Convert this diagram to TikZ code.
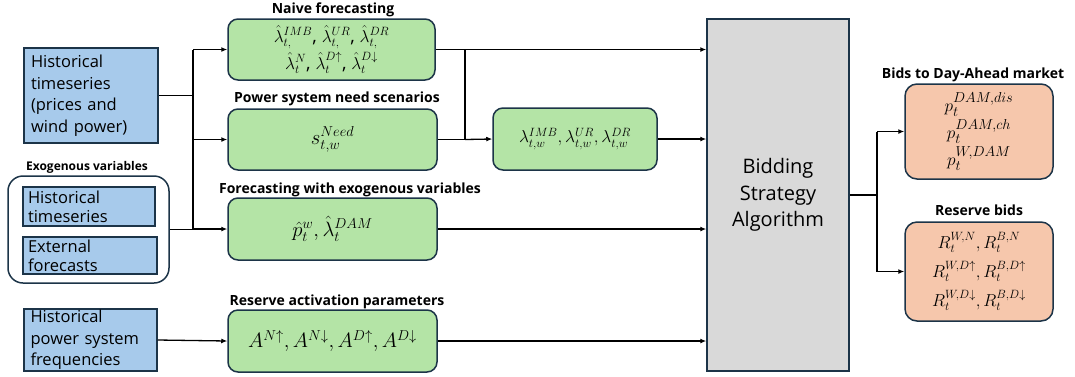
\documentclass[tikz,border=0pt]{standalone}
\usepackage{fontspec}
\setmainfont{Open Sans}
\usepackage{amsmath}
\usetikzlibrary{arrows.meta}
\definecolor{bluef}{HTML}{A7CAEB}
\definecolor{greenf}{HTML}{B4E4A6}
\definecolor{orangef}{HTML}{F6C7AC}
\definecolor{grayf}{HTML}{D9D9D9}
\definecolor{edge}{HTML}{1C3448}
\tikzset{
  box/.style={draw=edge, line width=1.5pt, inner sep=0pt, anchor=center},
  bluebox/.style={box, fill=bluef, align=left, font=\fontsize{16.5}{21.5}\selectfont},
  greenbox/.style={box, fill=greenf, rounded corners=10pt, align=center, font=\fontsize{17}{24}\selectfont},
  orangebox/.style={box, fill=orangef, rounded corners=12pt, align=center, font=\fontsize{16}{28}\selectfont},
  lbl/.style={font=\bfseries\fontsize{14}{16}\selectfont, inner sep=0pt},
  conn/.style={line width=1.3pt, draw=black},
  arr/.style={conn, -{Latex[length=6pt,width=5pt]}},
}
\begin{document}
\begin{tikzpicture}[x=1pt,y=-1pt]
\useasboundingbox (0,0) rectangle (1075,376);
% left inputs
\node[bluebox, minimum width=134pt, minimum height=95pt, text width=120pt] (hist) at (91,95.5)
  {Historical\\timeseries\\(prices and\\wind power)};
\node[font=\bfseries\fontsize{12}{14}\selectfont, inner sep=0pt] (exolbl) at (87,167) {Exogenous variables};
\node[box, fill=white, rounded corners=15pt, minimum width=161pt, minimum height=107pt] (exo) at (88.5,229.5) {};
\node[bluebox, minimum width=132pt, minimum height=39pt, text width=122pt, font=\fontsize{16.5}{19}\selectfont] (ht) at (89,206.5) {Historical\\timeseries};
\node[bluebox, minimum width=134pt, minimum height=37pt, text width=124pt, font=\fontsize{16.5}{19}\selectfont] (ef) at (90,255.5) {External\\forecasts};
\node[bluebox, minimum width=133pt, minimum height=62pt, text width=120pt] (freq) at (90.5,340)
  {Historical\\power system\\frequencies};
% green boxes
\node[lbl] (naivelbl) at (333,10) {Naive forecasting};
\node[greenbox, minimum width=207pt, minimum height=61pt, font=\fontsize{18.5}{27}\selectfont] (naive) at (331.5,49.5)
  {$\hat{\lambda}^{IMB}_{t,}$, $\hat{\lambda}^{UR}_{t,}$, $\hat{\lambda}^{DR}_{t,}$\\
   $\hat{\lambda}^{N}_{t}$, $\hat{\lambda}^{D\uparrow}_{t}$, $\hat{\lambda}^{D\downarrow}_{t}$};
\node[lbl] (needlbl) at (337,99) {Power system need scenarios};
\node[greenbox, minimum width=209pt, minimum height=61pt, font=\fontsize{21}{24}\selectfont] (need) at (332.5,139.5) {$s^{Need}_{t,w}$};
\node[lbl] (exfclbl) at (350,190) {Forecasting with exogenous variables};
\node[greenbox, minimum width=209pt, minimum height=62pt, font=\fontsize{22}{24}\selectfont] (exfc) at (332.5,229) {$\hat{p}^{w}_{t}, \hat{\lambda}^{DAM}_{t}$};
\node[lbl] (actlbl) at (337,302) {Reserve activation parameters};
\node[greenbox, minimum width=209pt, minimum height=62pt, font=\fontsize{21.5}{24}\selectfont] (act) at (332.5,341)
  {$A^{N\uparrow}, A^{N\downarrow}, A^{D\uparrow}, A^{D\downarrow}$};
\node[greenbox, minimum width=164pt, minimum height=62pt, font=\fontsize{17.5}{24}\selectfont] (lam) at (575,139)
  {$\lambda^{IMB}_{t,w}, \lambda^{UR}_{t,w}, \lambda^{DR}_{t,w}$};
% bidding
\node[box, fill=grayf, minimum width=142pt, minimum height=352pt, align=center,
  font=\fontsize{20}{26.5}\selectfont] (bid) at (778,195) {Bidding\\Strategy\\Algorithm};
% outputs
\node[lbl] (damlbl) at (973,75) {Bids to Day-Ahead market};
\node[orangebox, minimum width=148pt, minimum height=95pt, font=\fontsize{19}{27}\selectfont] (dam) at (979,131.5)
  {$p^{DAM,dis}_{t}$\\$p^{DAM,ch}_{t}$\\$p^{W,DAM}_{t}$};
\node[lbl] (rblbl) at (979,210) {Reserve bids};
\node[orangebox, minimum width=148pt, minimum height=99pt, font=\fontsize{18.5}{29}\selectfont] (rb) at (979,271.5)
  {$R^{W,N}_{t}, R^{B,N}_{t}$\\$R^{W,D\uparrow}_{t}, R^{B,D\uparrow}_{t}$\\$R^{W,D\downarrow}_{t}, R^{B,D\downarrow}_{t}$};
% connectors
\coordinate (j1) at (193,95.5);
\coordinate (j2) at (465,139.5);
\coordinate (j3) at (877,195);
\draw[conn] (hist.east) -- (j1);
\draw[conn] (exo.east) -- (j1 |- exo.east);
\draw[conn] (j1 |- naive.west) -- (j1 |- exfc.west);
\draw[arr] (j1 |- naive.west) -- (naive.west);
\draw[arr] (j1 |- need.west) -- (need.west);
\draw[arr] (j1 |- exfc.west) -- (exfc.west);
\draw[arr] (freq.east) -- (act.west);
\draw[arr] (naive.east) -- (naive.east -| bid.west);
\draw[conn] (need.east) -- (j2);
\draw[conn] (j2) -- (j2 |- naive.east);
\draw[arr] (j2) -- (lam.west);
\draw[arr] (lam.east) -- (lam.east -| bid.west);
\draw[arr] (exfc.east) -- (exfc.east -| bid.west);
\draw[arr] (act.east) -- (act.east -| bid.west);
\draw[conn] (bid.east) -- (j3);
\draw[conn] (j3 |- dam.west) -- (j3 |- rb.west);
\draw[arr] (j3 |- dam.west) -- (dam.west);
\draw[arr] (j3 |- rb.west) -- (rb.west);
\end{tikzpicture}
\end{document}
